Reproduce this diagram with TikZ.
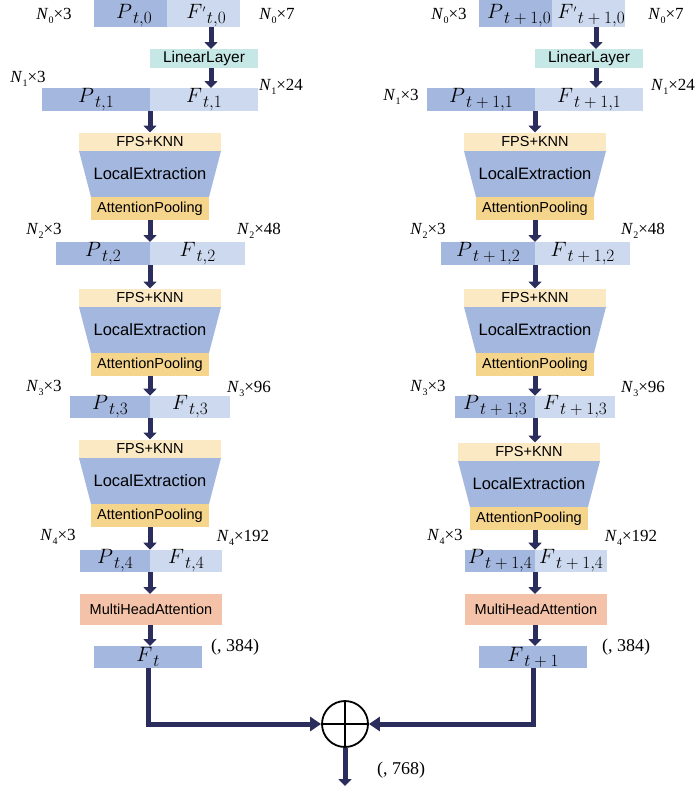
\documentclass[tikz,border=0pt]{standalone}
\usepackage{fontspec}
\setmainfont{Liberation Serif}
\newfontfamily\boxfont{Liberation Sans}
\usetikzlibrary{arrows.meta,calc}

\definecolor{pblue}{RGB}{164,183,223}
\definecolor{fblue}{RGB}{205,217,238}
\definecolor{linfill}{RGB}{197,231,229}
\definecolor{fpsfill}{RGB}{251,233,196}
\definecolor{apfill}{RGB}{245,212,140}
\definecolor{mhafill}{RGB}{244,194,168}
\definecolor{navy}{RGB}{43,45,92}

% symbol with enlarged subscript, e.g. P_{t,1}
\newcommand\ml[2]{{\fontsize{20}{24}\selectfont$#1$}\kern1pt\raisebox{-5pt}{\fontsize{16}{18}\selectfont$#2$}}
% primed symbol with subscript, e.g. F'_{t,0}
\newcommand\fml[2]{{\fontsize{20}{24}\selectfont$#1$}\kern0.5pt\raisebox{6pt}{\fontsize{10}{10}\selectfont$\prime$}\kern1.5pt\raisebox{-5pt}{\fontsize{16}{18}\selectfont$#2$}}
% size annotation N_k x d
\newcommand\nl[2]{\textit{N}\raisebox{-3.5pt}{\fontsize{10}{10}\selectfont #1}×#2}

\tikzset{
  cell/.style={inner sep=0pt, outer sep=0pt, minimum height=23pt},
  pcell/.style={cell, fill=pblue},
  fcell/.style={cell, fill=fblue},
  boxtxt/.style={font=\boxfont\fontsize{14.5}{17}\selectfont},
  bigtxt/.style={font=\boxfont\fontsize{16.5}{19}\selectfont},
  dimtxt/.style={inner sep=0pt, font=\fontsize{17}{20}\selectfont},
  shapetxt/.style={inner sep=0pt, font=\fontsize{18}{21}\selectfont},
  arr/.style={draw=navy, line width=5pt, -{Triangle[width=13pt,length=7pt]}},
  harr/.style={draw=navy, line width=5pt, -{Triangle[width=14pt,length=11pt]}},
}

% sampling / extraction / pooling stage: name, centre x, top y
\newcommand\fblock[3]{%
  \node[cell, fill=fpsfill, minimum width=142pt, minimum height=19pt, boxtxt] (#1fps) at (#2,#3+10) {FPS+KNN};
  \fill[pblue] (#2-71,#3+19) -- (#2+71,#3+19) -- (#2+59,#3+65) -- (#2-59,#3+65) -- cycle;
  \node[bigtxt, inner sep=0pt] (#1le) at (#2,#3+42) {LocalExtraction};
  \node[cell, fill=apfill, minimum width=118pt, minimum height=23pt, boxtxt] (#1ap) at (#2,#3+76.5) {AttentionPooling};
}

% one encoder branch: prefix, time index, x shift, stage-3 dx, stage-3 dy
\newcommand\branch[5]{%
\begin{scope}[xshift=#3pt]
  \node[pcell, minimum width=73pt, minimum height=27pt] (#1p0) at (130.5,13.5) {};
  \node[fcell, minimum width=73pt, minimum height=27pt] (#1f0) at (203.5,13.5) {};
  \node[inner sep=0pt] (#1p0t) at (134,16) {\ml{P}{#2{,}0}};
  \node[inner sep=0pt] (#1f0t) at (206,16) {\fml{F}{#2{,}0}};
  \coordinate (#1ax) at (211,0);
  \node[cell, fill=linfill, minimum width=108pt, minimum height=19pt, font=\boxfont\fontsize{15.5}{18}\selectfont] (#1lin) at (204,58.5) {LinearLayer};
  \node[pcell, minimum width=108pt] (#1p1) at (96,99.5) {\ml{P}{#2{,}1}};
  \node[fcell, minimum width=108pt] (#1f1) at (204,99.5) {\ml{F}{#2{,}1}};
  \fblock{#1b1}{150}{132}
  \node[pcell, minimum width=94pt] (#1p2) at (103,253.5) {\ml{P}{#2{,}2}};
  \node[fcell, minimum width=95pt] (#1f2) at (197.5,253.5) {\ml{F}{#2{,}2}};
  \fblock{#1b2}{150}{288}
  \node[pcell, minimum width=80pt, minimum height=22pt] (#1p3) at (110,407) {\ml{P}{#2{,}3}};
  \node[fcell, minimum width=80pt, minimum height=22pt] (#1f3) at (190,407) {\ml{F}{#2{,}3}};
  \fblock{#1b3}{150+#4}{439+#5}
  \node[pcell, minimum width=70pt, minimum height=22pt] (#1p4) at (115,561) {\ml{P}{#2{,}4}};
  \node[fcell, minimum width=72pt, minimum height=22pt] (#1f4) at (186,561) {\ml{F}{#2{,}4}};
  \node[cell, fill=mhafill, minimum width=142pt, minimum height=31pt, boxtxt] (#1mha) at (151,609.5) {MultiHeadAttention};
  \node[pcell, minimum width=108pt, minimum height=22pt] (#1ft) at (148,657) {\ml{F}{#2}};
  % data flow
  \draw[arr] (#1f0.south -| #1ax) -- (#1lin.north -| #1ax);
  \draw[arr] (#1lin.south -| #1ax) -- (#1f1.north -| #1ax);
  \draw[arr] (#1p1.south east) -- (#1p1.south east |- #1b1fps.north);
  \draw[arr] (#1b1ap.south -| #1p2.north east) -- (#1p2.north east);
  \draw[arr] (#1p2.south east) -- (#1p2.south east |- #1b2fps.north);
  \draw[arr] (#1b2ap.south -| #1p3.north east) -- (#1p3.north east);
  \draw[arr] (#1p3.south east) -- (#1p3.south east |- #1b3fps.north);
  \draw[arr] (#1b3ap.south -| #1p4.north east) -- (#1p4.north east);
  \draw[arr] (#1p4.south east) -- (#1p4.south east |- #1mha.north);
  \draw[arr] (#1mha.south -| #1p4.south east) -- (#1ft.north -| #1p4.south east);
\end{scope}}

\begin{document}
\begin{tikzpicture}[x=1pt, y=-1pt]
  \useasboundingbox (0,0) rectangle (697,787);

  \branch{L}{t}{0}{0}{0}
  \branch{R}{t+1}{385}{-6}{3}

  % size annotations, branch t
  \node[dimtxt] (ln0a) at (54,16)   {\nl{0}{3}};
  \node[dimtxt] (ln0b) at (277,16)  {\nl{0}{7}};
  \node[dimtxt] (ln1a) at (28,79)   {\nl{1}{3}};
  \node[dimtxt] (ln1b) at (281,87)  {\nl{1}{24}};
  \node[dimtxt] (ln2a) at (44,231)  {\nl{2}{3}};
  \node[dimtxt] (ln2b) at (259,231) {\nl{2}{48}};
  \node[dimtxt] (ln3a) at (44,388)  {\nl{3}{3}};
  \node[dimtxt] (ln3b) at (249,389) {\nl{3}{96}};
  \node[dimtxt] (ln4a) at (58,537)  {\nl{4}{3}};
  \node[dimtxt] (ln4b) at (243,538) {\nl{4}{192}};
  \node[shapetxt] (lout) at (235,647) {(, 384)};

  % size annotations, branch t+1
  \node[dimtxt] (rn0a) at (449,16)  {\nl{0}{3}};
  \node[dimtxt] (rn0b) at (666,16)  {\nl{0}{7}};
  \node[dimtxt] (rn1a) at (401,97)  {\nl{1}{3}};
  \node[dimtxt] (rn1b) at (673,87)  {\nl{1}{24}};
  \node[dimtxt] (rn2a) at (428,231) {\nl{2}{3}};
  \node[dimtxt] (rn2b) at (643,231) {\nl{2}{48}};
  \node[dimtxt] (rn3a) at (428,388) {\nl{3}{3}};
  \node[dimtxt] (rn3b) at (643,389) {\nl{3}{96}};
  \node[dimtxt] (rn4a) at (445,537) {\nl{4}{3}};
  \node[dimtxt] (rn4b) at (631,538) {\nl{4}{192}};
  \node[shapetxt] (rout) at (626,647) {(, 384)};

  % fusion of the two branch features
  \node[circle, draw=black, line width=1.8pt, minimum size=46pt, inner sep=0pt] (sum) at (345,724) {};
  \draw[line width=1.8pt] (sum.north) -- (sum.south);
  \draw[line width=1.8pt] (sum.west) -- (sum.east);
  \draw[harr] (Lft.south) |- (sum.west);
  \draw[harr] (Rft.south) |- (sum.east);
  \coordinate (outend) at (345,786);
  \draw[arr] (sum.south) -- (outend);
  \node[shapetxt] (fout) at (401,770) {(, 768)};
\end{tikzpicture}
\end{document}
